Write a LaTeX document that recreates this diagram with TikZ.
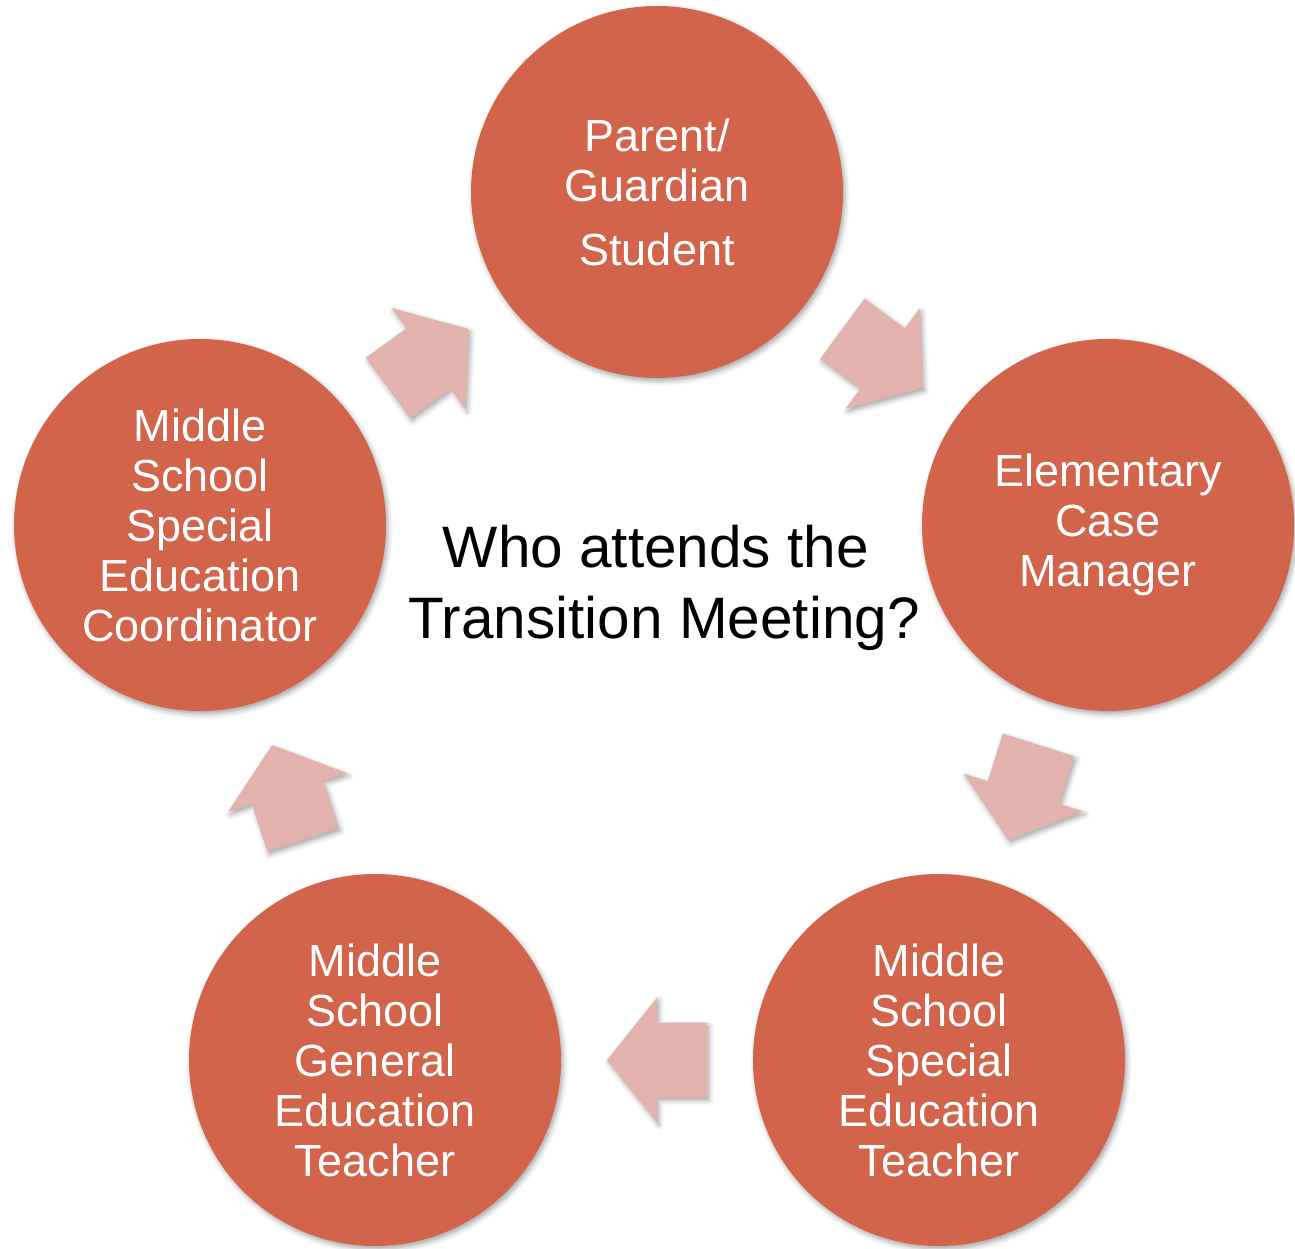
\documentclass[tikz,border=0pt]{standalone}
\usepackage{fontspec}
\setmainfont{Liberation Sans}
\usetikzlibrary{shadows.blur}
\definecolor{circfill}{RGB}{209,100,74}
\definecolor{arrfill}{RGB}{226,179,173}
\tikzset{
  softshadow/.style={blur shadow={shadow xshift=2pt, shadow yshift=-3pt, shadow blur radius=5pt, shadow opacity=35}},
  member/.style={circle, fill=circfill, minimum size=372pt, inner sep=0pt,
    text=white, align=center, font=\fontsize{45}{50}\selectfont, softshadow},
  title/.style={align=center, text=black, font=\fontsize{58.5}{71}\selectfont},
  blockarrow/.pic={
    \fill[arrfill, softshadow] (-50,-37.5) -- (0,-37.5) -- (0,-62.5) -- (50,0)
      -- (0,62.5) -- (0,37.5) -- (-50,37.5) -- cycle;
  },
}
\begin{document}
\begin{tikzpicture}[x=1pt,y=-1pt]
\useasboundingbox (0,0) rectangle (1295,1249);
\node[member] (top) at (657,192) {Parent/\\Guardian\\[14pt]Student};
\node[member] (right) at (1108,525) {Elementary\\Case\\Manager};
\node[member] (bright) at (939,1060) {Middle\\School\\Special\\Education\\Teacher};
\node[member] (bleft) at (375,1060) {Middle\\School\\General\\Education\\Teacher};
\node[member] (left) at (200,525) {Middle\\School\\Special\\Education\\Coordinator};
\node[title] (q) at (664,588) {Who attends the\hphantom{\ }\\Transition Meeting?};
\path (left.center) -- pic[sloped, allow upside down]{blockarrow} (top.center);
\path (top.center) -- pic[sloped, allow upside down]{blockarrow} (right.center);
\path (right.center) -- pic[sloped, allow upside down]{blockarrow} (bright.center);
\path (bright.center) -- pic[sloped, allow upside down]{blockarrow} (bleft.center);
\path (bleft.center) -- pic[sloped, allow upside down]{blockarrow} (left.center);
\end{tikzpicture}
\end{document}
